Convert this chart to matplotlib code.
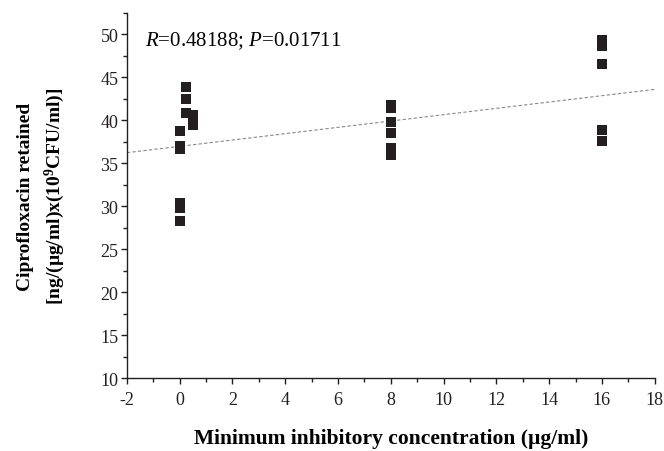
import numpy as np
import matplotlib
matplotlib.use("Agg")
import matplotlib.pyplot as plt
from matplotlib.ticker import MultipleLocator

plt.rcParams['font.family'] = ['Liberation Serif', 'DejaVu Serif']
plt.rcParams['mathtext.fontset'] = 'custom'
plt.rcParams['mathtext.rm'] = 'Liberation Serif'
plt.rcParams['mathtext.it'] = 'Liberation Serif:italic'
plt.rcParams['mathtext.bf'] = 'Liberation Serif:bold'
plt.rcParams['axes.unicode_minus'] = False

# MIC (ug/ml) vs ciprofloxacin retained
mic = [0, 0, 0, 0, 0, 0,
       0.25, 0.25, 0.25,
       0.5, 0.5,
       8, 8, 8, 8, 8, 8,
       16, 16, 16, 16, 16]
retained = [28.3, 29.8, 30.4, 36.6, 37.0, 38.7,
            43.8, 42.5, 40.8,
            40.6, 39.4,
            41.7, 41.4, 39.8, 38.5, 36.8, 35.9,
            49.3, 48.6, 46.5, 38.8, 37.6]

# regression line as drawn in the figure
fit_slope = 0.368
fit_intercept = 36.95
stat_text = r"$\it{R}$=0.48188; $\it{P}$=0.01711"

fig = plt.figure(figsize=(6.64, 4.52), dpi=100)
ax = fig.add_axes([0.191, 0.161, 0.795, 0.809])

ax.scatter(mic, retained, marker='s', s=42, color='#231f20', zorder=3, linewidths=0)

xs = np.array([-2, 18])
ax.plot(xs, fit_slope * xs + fit_intercept, linestyle=(0, (3, 2)), color='#888888', linewidth=0.8)

ax.set_xlim(-2, 18)
ax.set_ylim(10, 52.5)
ax.xaxis.set_major_locator(MultipleLocator(2))
ax.xaxis.set_minor_locator(MultipleLocator(1))
ax.yaxis.set_minor_locator(MultipleLocator(2.5))
ax.set_yticks(range(10, 51, 5))

for s in ['top', 'right']:
    ax.spines[s].set_visible(False)
for s in ['left', 'bottom']:
    ax.spines[s].set_linewidth(1.0)
    ax.spines[s].set_color('#231f20')

ax.tick_params(which='major', direction='out', length=4.5, width=1, labelsize=13, colors='#231f20')
ax.tick_params(which='minor', direction='out', length=3, width=1, colors='#231f20')
ax.tick_params(axis='x', pad=5)
ax.tick_params(axis='y', pad=1.5)

ax.set_xlabel("Minimum inhibitory concentration (\u00b5g/ml)", fontsize=15.5, fontweight='bold', labelpad=14)
ax.set_ylabel("Ciprofloxacin retained\n[ng/(\u00b5g/ml)x(10$^{\\mathbf{9}}$CFU/ml)]",
              fontsize=14, fontweight='bold', labelpad=24, linespacing=1.5)

ax.text(0.035, 0.955, stat_text, transform=ax.transAxes, fontsize=15, va='top', ha='left')

fig.savefig("out.png", dpi=100)
